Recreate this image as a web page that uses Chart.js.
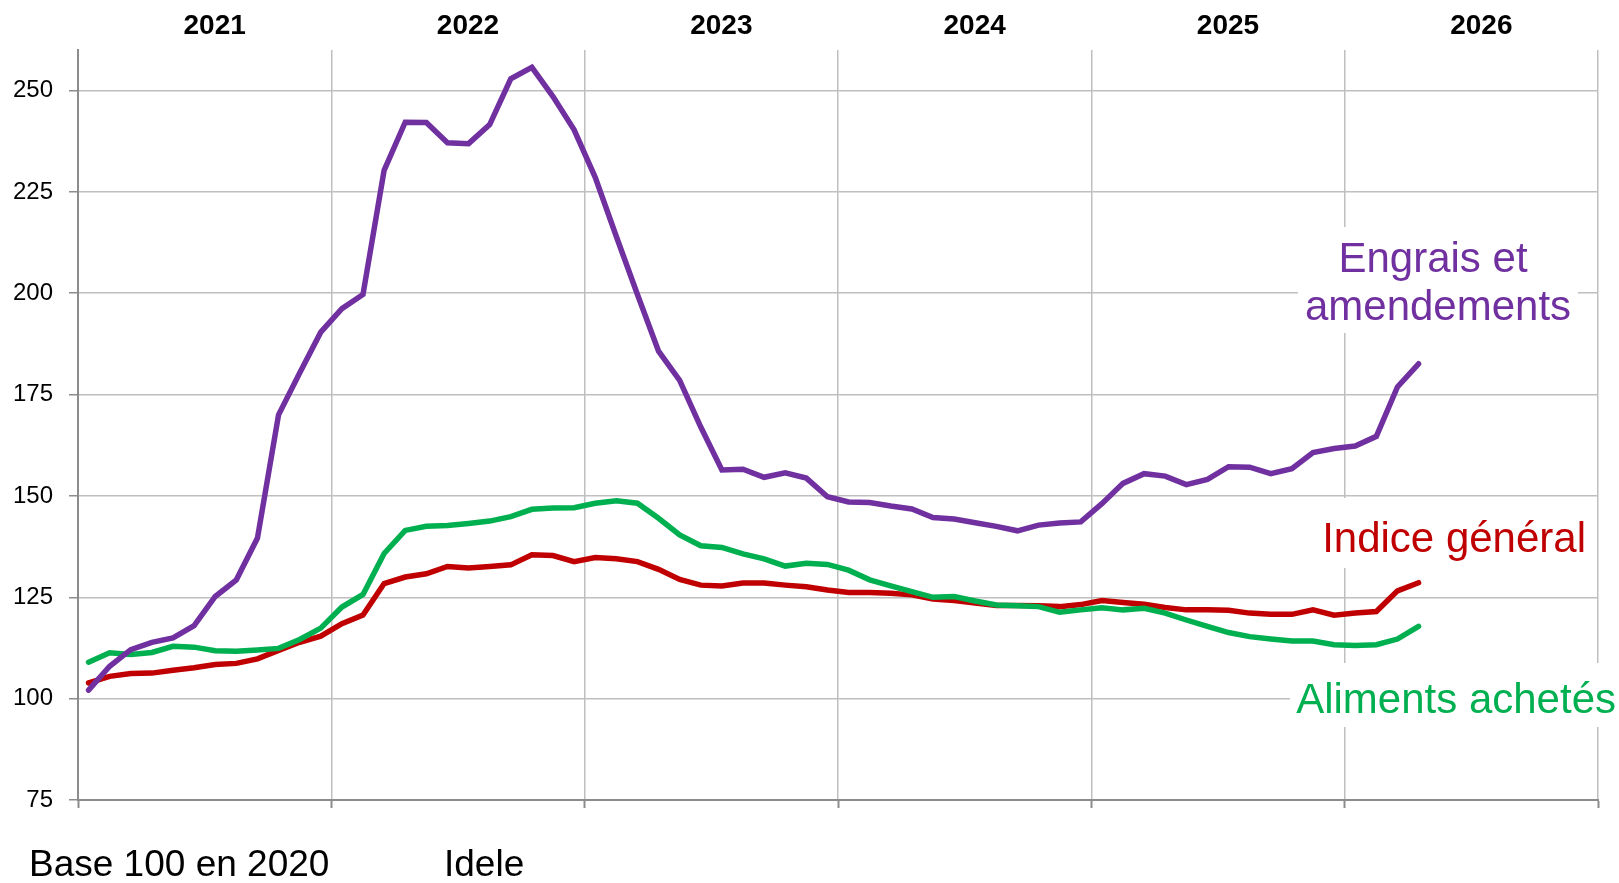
<!DOCTYPE html>
<html lang="fr">
<head>
  <meta charset="UTF-8" />
  <title>Indices des prix - Idele</title>
  <style>
    body {
      margin: 0;
      background-color: #fff;
    }
    #wrap {
      position: relative;
      width: 1619px;
      height: 883px;
    }
  </style>
</head>
<body>
  <div id="wrap">
    <canvas id="prixChart"></canvas>
  </div>

  <script src="https://cdn.jsdelivr.net/npm/chart.js"></script>
  <script>
    // annees affichees en haut (un creneau = 12 mois)
    const years = ['2021', '2022', '2023', '2024', '2025', '2026'];
    const months = [];
    years.forEach(y => {
      for (let m = 1; m <= 12; m++) months.push(y + '-' + String(m).padStart(2, '0'));
    });

    // base 100 en 2020, janvier 2021 -> avril 2026
    const engrais = [102.1, 108.0, 112.1, 113.9, 115.0, 118.0, 125.2, 129.3, 139.6, 170.0,
      180.3, 190.4, 196.2, 199.7, 230.3, 242.2, 242.1, 237.1, 236.9, 241.6,
      252.9, 255.7, 248.5, 240.3, 228.6, 214.0, 199.7, 185.7, 178.5, 167.0,
      156.4, 156.6, 154.6, 155.7, 154.4, 149.8, 148.5, 148.4, 147.5, 146.8,
      144.7, 144.3, 143.4, 142.5, 141.4, 142.8, 143.3, 143.6, 148.1, 153.1,
      155.5, 154.9, 152.8, 154.1, 157.2, 157.1, 155.5, 156.7, 160.7, 161.7,
      162.3, 164.7, 176.9, 182.6];

    const indiceGeneral = [103.9, 105.5, 106.2, 106.3, 107.0, 107.6, 108.4, 108.7, 109.8, 111.9,
      113.9, 115.4, 118.5, 120.6, 128.4, 130.0, 130.8, 132.6, 132.2, 132.6,
      133.0, 135.5, 135.3, 133.8, 134.8, 134.5, 133.8, 131.9, 129.4, 128.0,
      127.8, 128.5, 128.5, 128.0, 127.6, 126.8, 126.2, 126.2, 126.0, 125.6,
      124.6, 124.2, 123.6, 123.0, 123.0, 122.9, 122.7, 123.2, 124.2, 123.7,
      123.3, 122.5, 121.9, 121.9, 121.8, 121.1, 120.8, 120.8, 121.9, 120.6,
      121.1, 121.5, 126.6, 128.6];

    const aliments = [109.0, 111.3, 110.9, 111.4, 112.9, 112.7, 111.8, 111.7, 112.0, 112.4,
      114.6, 117.4, 122.6, 125.7, 135.8, 141.5, 142.5, 142.7, 143.2, 143.8,
      144.9, 146.7, 147.0, 147.1, 148.2, 148.8, 148.2, 144.5, 140.4, 137.7,
      137.3, 135.7, 134.5, 132.7, 133.4, 133.1, 131.7, 129.3, 127.8, 126.4,
      125.0, 125.2, 124.1, 123.1, 122.9, 122.7, 121.3, 121.9, 122.4, 121.9,
      122.3, 121.1, 119.4, 117.8, 116.3, 115.3, 114.7, 114.2, 114.2, 113.3,
      113.1, 113.3, 114.7, 117.8];

    const FONT = "'Liberation Sans', Arial, sans-serif";
    const GRID = '#BFBFBF';
    const AXIS = '#8C8C8C';

    // etiquettes dans le graphique + source en bas
    const labelsPlugin = {
      id: 'labels',
      afterDraw(chart) {
        const c = chart.ctx;
        c.save();
        c.fillStyle = '#fff';
        c.fillRect(1298, 227, 280, 106);
        c.fillRect(1316, 498, 276, 70);
        c.fillRect(1290, 663, 329, 64);

        c.font = '42px ' + FONT;
        c.textBaseline = 'alphabetic';
        c.textAlign = 'center';
        c.fillStyle = '#7030A0';
        c.fillText('Engrais et', 1433, 272);
        c.fillText('amendements', 1438, 320);

        c.textAlign = 'right';
        c.fillStyle = '#C00000';
        c.fillText('Indice général', 1586, 552);
        c.fillStyle = '#00B050';
        c.fillText('Aliments achetés', 1616, 713);

        c.textAlign = 'left';
        c.fillStyle = '#000';
        c.font = '37px ' + FONT;
        c.fillText('Base 100 en 2020', 29, 876);
        c.fillText('Idele', 444, 876);
        c.restore();
      }
    };

    const ctx = document.getElementById('prixChart').getContext('2d');

    const line = (label, data, color) => ({
      label, data,
      borderColor: color,
      borderWidth: 5.5,
      borderCapStyle: 'round',
      tension: 0,
      fill: false,
      pointRadius: 0,
      pointHoverRadius: 0
    });

    const chart = new Chart(ctx, {
      type: 'line',
      data: {
        labels: months,
        datasets: [
          line('Engrais et amendements', engrais, '#7030A0'),
          line('Aliments achetés', aliments, '#00B050'),
          line('Indice général', indiceGeneral, '#C00000')
        ]
      },
      options: {
        responsive: true,
        maintainAspectRatio: false,
        animation: false,
        layout: { padding: { left: 0, right: 21, top: 0, bottom: 0 } },
        plugins: {
          legend: { display: false },
          tooltip: { enabled: false }
        },
        scales: {
          x: {
            type: 'category',
            position: 'bottom',
            offset: true,
            afterFit: s => { s.height = 83; },
            ticks: { display: false, autoSkip: false },
            grid: {
              offset: true,
              drawOnChartArea: false,
              drawTicks: true,
              tickLength: 8,
              tickWidth: 2,
              color: 'transparent',
              tickColor: c => (c.index === undefined || c.index % 12 === 0) ? AXIS : 'transparent'
            },
            border: { display: true, color: AXIS, width: 2 }
          },
          x2: {
            type: 'category',
            position: 'top',
            labels: years,
            offset: true,
            afterFit: s => { s.height = 50; },
            ticks: {
              color: '#000',
              font: { family: FONT, size: 28, weight: 'bold' },
              padding: 7,
              labelOffset: 10,
              maxRotation: 0
            },
            grid: { offset: true, color: GRID, lineWidth: 1.5, drawTicks: false },
            border: { display: false }
          },
          y: {
            min: 75,
            max: 260,
            afterFit: s => { s.width = 78; },
            ticks: {
              stepSize: 25,
              includeBounds: false,
              color: '#000',
              font: { family: FONT, size: 24 },
              padding: 16
            },
            grid: { color: GRID, lineWidth: 1.5, tickColor: AXIS, tickLength: 9 },
            border: { display: true, color: AXIS, width: 2 }
          }
        }
      },
      plugins: [labelsPlugin]
    });
  </script>
</body>
</html>
